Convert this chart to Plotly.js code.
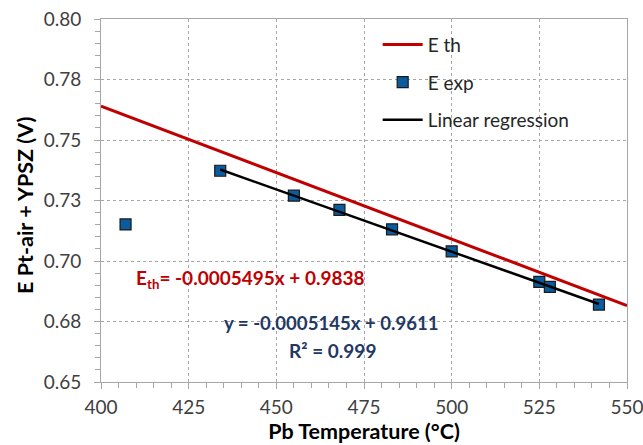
<!DOCTYPE html>
<html>
<head>
<meta charset="utf-8">
<script src="https://cdn.plot.ly/plotly-3.0.1.min.js"></script>
<style>html,body{margin:0;padding:0;background:#fff;}#chart{width:643px;height:445px;}</style>
</head>
<body>
<div id="chart"></div>
<script>
// Experimental data
const tempExp = [407, 434, 455, 468, 483, 500, 525, 528, 542];
const eExp = [0.7151, 0.7373, 0.7270, 0.7211, 0.7131, 0.7040, 0.6914, 0.6893, 0.6820];
// Theoretical line: E_th = a*x + b
const thCoef = [-0.0005495, 0.9838];
const thRange = [400, 550];
// Linear regression: y = a*x + b
const regCoef = [-0.0005145, 0.9611];
const regRange = [434, 542];
// Axis ticks
const yTickVals = [0.65, 0.675, 0.70, 0.725, 0.75, 0.775, 0.80];
const yTickText = ['0.65', '0.68', '0.70', '0.73', '0.75', '0.78', '0.80'];
const xTickVals = [400, 425, 450, 475, 500, 525, 550];

const lineY = (c, xs) => xs.map(x => c[0] * x + c[1]);

const FONT = 'Lato, "Open Sans", sans-serif';

const traces = [
  {
    x: thRange, y: lineY(thCoef, thRange), mode: 'lines', name: 'E th',
    legendgroup: 'a', line: {color: '#C00000', width: 3}, hoverinfo: 'skip'
  },
  {
    x: tempExp, y: eExp, mode: 'markers', name: 'E exp', legendgroup: 'b',
    marker: {symbol: 'square', size: 11, color: '#0B5C9E', line: {color: '#1a1a1a', width: 1.2}}
  },
  {
    x: regRange, y: lineY(regCoef, regRange), mode: 'lines', name: 'Linear regression',
    legendgroup: 'c', line: {color: '#000000', width: 2.5}, hoverinfo: 'skip'
  }
];

const axisCommon = {
  showline: true, linecolor: '#A6A6A6', linewidth: 1, mirror: true,
  showgrid: true, gridcolor: '#A6A6A6', griddash: 'dot', gridwidth: 1,
  zeroline: false, ticks: 'outside', ticklen: 6, tickcolor: '#A6A6A6',
  ticklabeloverflow: 'allow',
  tickfont: {family: FONT, size: 19, color: '#404040'}
};

const layout = {
  width: 643, height: 445,
  margin: {l: 101, r: 16, t: 19, b: 63},
  paper_bgcolor: '#fff', plot_bgcolor: '#fff',
  showlegend: true,
  legend: {
    x: 0.526, y: 0.982, xanchor: 'left', yanchor: 'top',
    bgcolor: 'rgba(255,255,255,0)', tracegroupgap: 10, itemwidth: 40,
    font: {family: FONT, size: 19, color: '#262626'}
  },
  xaxis: Object.assign({}, axisCommon, {
    range: [400, 550], tickvals: xTickVals, ticklabelstandoff: 2,
    minor: {dtick: 5, ticks: 'outside', ticklen: 5, tickcolor: '#A6A6A6', showgrid: false},
    title: {text: 'Pb Temperature (°C)', font: {family: FONT, size: 21.5, color: '#000', weight: 'bold'}, standoff: 6}
  }),
  yaxis: Object.assign({}, axisCommon, {
    range: [0.65, 0.80], tickvals: yTickVals, ticktext: yTickText, ticklabelstandoff: 9,
    minor: {dtick: 0.005, ticks: 'outside', ticklen: 5, tickcolor: '#A6A6A6', showgrid: false}
  }),
  annotations: [
    {
      xref: 'paper', yref: 'paper', x: 0, y: 0.485, xshift: -76, xanchor: 'center', yanchor: 'middle',
      showarrow: false, textangle: -90,
      text: 'E Pt-air + YPSZ (V)',
      font: {family: FONT, size: 21.5, color: '#000', weight: 'bold'}
    },
    {
      xref: 'x', yref: 'y', x: 442.5, y: 0.6925, showarrow: false,
      text: 'E<sub>th</sub>= -0.0005495x + 0.9838',
      font: {family: FONT, size: 19, color: '#C00000', weight: 'bold'}
    },
    {
      xref: 'x', yref: 'y', x: 465.8, y: 0.6743, showarrow: false,
      text: 'y = -0.0005145x + 0.9611',
      font: {family: FONT, size: 18.6, color: '#1F3864', weight: 'bold'}
    },
    {
      xref: 'x', yref: 'y', x: 466, y: 0.6631, showarrow: false,
      text: 'R² = 0.999',
      font: {family: FONT, size: 19, color: '#1F3864', weight: 'bold'}
    }
  ]
};

Plotly.newPlot('chart', traces, layout, {displayModeBar: false, staticPlot: true});
</script>
</body>
</html>
